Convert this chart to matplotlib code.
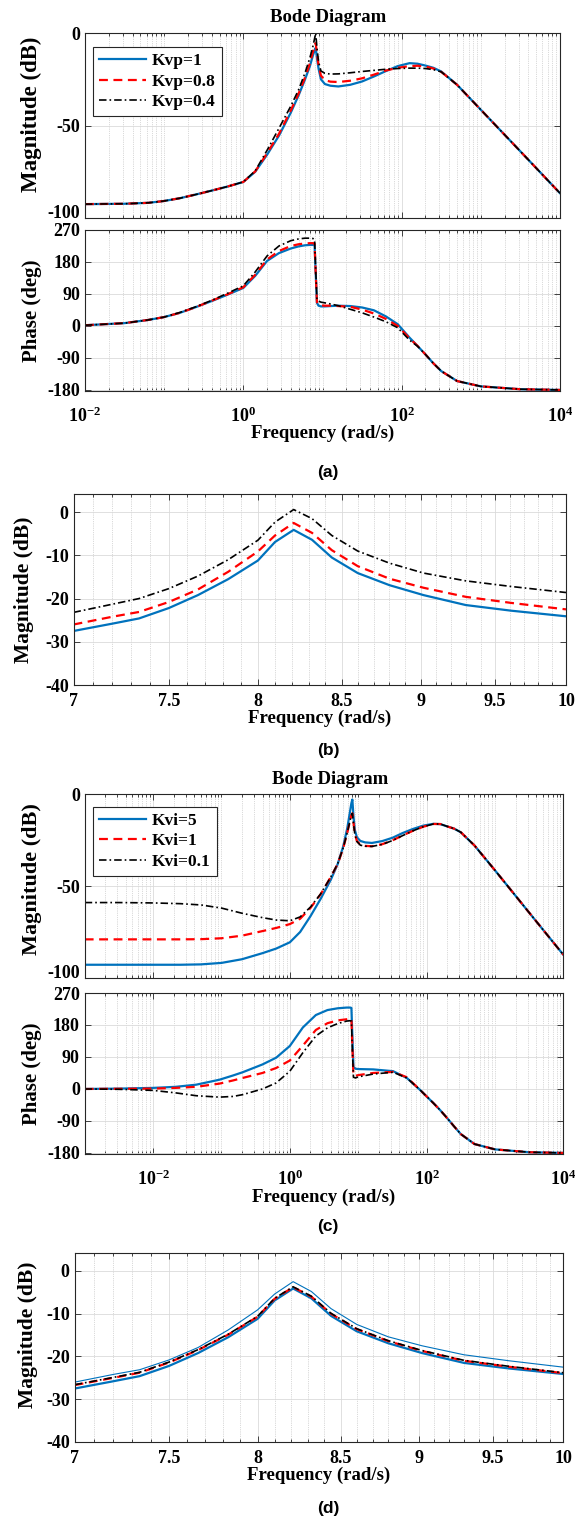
import matplotlib.pyplot as plt
from matplotlib.ticker import FixedLocator, FixedFormatter, NullFormatter, LogLocator
import numpy as np

plt.rcParams['font.family'] = 'Liberation Serif'
plt.rcParams['font.weight'] = 'bold'
plt.rcParams['mathtext.fontset'] = 'custom'
plt.rcParams['mathtext.rm'] = 'Liberation Serif:bold'
plt.rcParams['mathtext.it'] = 'Liberation Serif:bold'
plt.rcParams['mathtext.bf'] = 'Liberation Serif:bold'
plt.rcParams['axes.unicode_minus'] = False

# ---- (a) Kvp sweep, magnitude / phase ----
w_a = [0.01, 0.0316, 0.0631, 0.1, 0.158, 0.251, 0.398, 0.631, 1.0, 1.413, 1.995, 2.818,
       3.981, 5.012, 6.026, 6.918, 7.586, 7.943, 8.2, 8.511, 8.913, 9.55, 10.72, 12.59,
       15.85, 22.39, 31.62, 44.67, 63.1, 89.13, 125.9, 158.5, 199.5, 251.2, 316.2, 501.2,
       1000, 3162, 10000]
mag_kvp1 = [-92.5, -92.3, -91.8, -90.8, -89.3, -87.3, -85.2, -83.0, -80.5, -75.0, -65.8, -55.5,
            -43.0, -33.5, -25.0, -18.0, -12.0, -9.5, -8.0, -13.5, -19.2, -25.0, -27.6, -28.5,
            -28.9, -28.0, -26.2, -23.5, -20.6, -17.9, -16.3, -16.6, -17.6, -18.8, -20.8, -28.0,
            -41.5, -64.0, -86.6]
mag_kvp08 = [-92.5, -92.3, -91.8, -90.8, -89.3, -87.3, -85.2, -83.0, -80.5, -74.8, -65.0, -54.5,
             -41.8, -32.5, -24.0, -16.5, -10.0, -7.0, -5.5, -11.0, -17.5, -23.0, -25.5, -26.3,
             -26.5, -25.8, -24.5, -22.5, -20.3, -18.8, -17.9, -17.7, -18.1, -19.2, -21.0, -28.0,
             -41.5, -64.0, -86.6]
mag_kvp04 = [-92.5, -92.3, -91.8, -90.8, -89.3, -87.3, -85.2, -83.0, -80.5, -74.5, -63.4, -51.5,
             -39.5, -30.5, -21.5, -13.5, -7.0, -3.0, 0.0, -8.0, -15.5, -20.5, -21.8, -22.2,
             -22.1, -21.5, -20.8, -20.2, -19.6, -19.2, -19.0, -19.0, -19.2, -19.8, -21.0, -28.0,
             -41.5, -64.0, -86.6]
ph_kvp1 = [2, 8, 17, 25, 37, 53, 70, 88, 107, 141, 183, 205,
           218, 224, 227, 228, 228, 227, 150, 65, 57, 55, 55, 56,
           57, 56, 52, 44, 27, 5, -33, -56, -80, -105, -127, -155,
           -170, -178, -180]
ph_kvp08 = [2, 8, 17, 25, 37, 53, 71, 89, 109, 144, 187, 211,
            225, 230, 232, 233, 233, 232, 150, 67, 60, 58, 57, 57,
            56, 54, 46, 35, 20, 0, -35, -56, -80, -105, -127, -155,
            -170, -178, -180]
ph_kvp04 = [2, 8, 17, 25, 38, 54, 72, 92, 113, 152, 197, 225,
            240, 245, 247, 247, 246, 243, 160, 74, 70, 67, 65, 62,
            57, 47, 37, 25, 12, -5, -40, -57, -80, -105, -127, -155,
            -170, -178, -180]

# ---- (b) zoom around the resonance, Kvp sweep ----
w_zoom = [7.0, 7.2, 7.34, 7.5, 7.66, 7.83, 8.0, 8.1, 8.21, 8.32, 8.44, 8.6, 8.8, 9.02, 9.3, 9.61, 10.0]
zb_kvp1 = [-27.5, -25.8, -24.6, -22.2, -19.2, -15.5, -11.2, -6.9, -4.1, -6.4, -10.5, -14.1,
           -16.9, -19.2, -21.5, -22.8, -24.1]
zb_kvp08 = [-26.0, -24.2, -23.1, -20.8, -17.9, -13.8, -9.1, -5.4, -2.5, -4.8, -8.8, -12.5,
            -15.4, -17.5, -19.6, -21.0, -22.5]
zb_kvp04 = [-23.2, -21.3, -20.0, -17.7, -14.8, -11.0, -6.5, -2.3, 0.6, -1.5, -5.4, -9.0,
            -11.8, -14.1, -15.9, -17.2, -18.6]

# ---- (c) Kvi sweep ----
w_cm = [0.001, 0.00316, 0.01, 0.0251, 0.0501, 0.1, 0.1995, 0.398, 0.631, 1.0, 1.413, 1.995,
        2.818, 3.981, 5.012, 6.026, 6.918, 7.586, 7.943, 8.2, 8.511, 8.913, 9.55, 10.72,
        12.59, 15.85, 22.39, 31.62, 44.67, 63.1, 89.13, 125.9, 158.5, 199.5, 251.2, 316.2,
        501.2, 1000, 3162, 10000]
mag_kvi5 = [-92.8, -92.8, -92.8, -92.8, -92.6, -91.8, -89.8, -86.5, -84.0, -80.6, -75.0, -66.5,
            -57.0, -46.5, -38.0, -28.5, -18.5, -9.5, -5.0, -3.0, -12.0, -19.5, -23.5, -25.5,
            -26.3, -26.6, -25.6, -23.8, -21.2, -19.0, -17.2, -16.2, -16.4, -17.6, -18.8, -20.8,
            -28.0, -41.5, -64.5, -87.4]
mag_kvi1 = [-79.0, -79.0, -79.0, -79.0, -78.9, -78.4, -77.0, -74.5, -72.8, -70.7, -67.8, -62.0,
            -54.5, -45.0, -38.0, -29.5, -21.0, -14.5, -11.5, -10.5, -15.5, -21.5, -25.5, -27.5,
            -28.2, -28.4, -27.3, -25.2, -22.5, -20.0, -17.8, -16.3, -16.3, -17.6, -18.8, -20.8,
            -28.0, -41.5, -64.5, -87.4]
mag_kvi01 = [-59.0, -59.0, -59.2, -59.6, -60.3, -62.0, -64.8, -67.2, -68.5, -68.9, -66.8, -61.5,
             -54.3, -45.0, -37.8, -29.3, -21.0, -14.5, -11.5, -10.5, -15.8, -21.8, -25.8, -27.8,
             -28.4, -28.5, -27.4, -25.3, -22.6, -20.0, -17.8, -16.3, -16.3, -17.6, -18.8, -20.8,
             -28.0, -41.5, -64.5, -87.4]
w_cp = [0.001, 0.00316, 0.01, 0.0214, 0.0427, 0.0933, 0.148, 0.204, 0.398, 0.631, 1.0, 1.549,
        2.399, 3.548, 5.012, 6.761, 7.586, 7.943, 8.2, 8.511, 9.12, 10.0, 16.6, 32.36,
        51.29, 79.43, 125.9, 158.5, 199.5, 251.2, 316.2, 501.2, 1000, 3162, 10000]
ph_kvi5 = [0, 1, 3, 6, 12, 26, 38, 47, 69, 88, 121, 173,
           208, 222, 227, 229, 229, 228, 150, 62, 57, 56, 55, 50,
           31, -2, -40, -60, -82, -105, -127, -155, -170, -178, -180]
ph_kvi1 = [0, 0.5, 1, 3, 6, 15, 24, 31, 45, 59, 80, 122,
           166, 185, 193, 196, 198, 197, 120, 38, 37, 39, 45, 48,
           33, -2, -40, -60, -82, -105, -127, -155, -170, -178, -180]
ph_kvi01 = [0, -1, -4, -11, -19, -23, -21, -16, 0, 17, 50, 102,
            149, 172, 184, 191, 192, 191, 110, 33, 31, 34, 42, 47,
            31, -2, -40, -60, -82, -105, -127, -155, -170, -178, -180]

# ---- (d) zoom around the resonance, Kvi sweep ----
zd_kvi5 = [-27.5, -25.8, -24.6, -22.2, -19.2, -15.5, -11.2, -6.9, -4.1, -6.4, -10.5, -14.1,
           -16.9, -19.2, -21.5, -22.8, -24.1]
zd_kvi1 = [-26.7, -25.0, -23.8, -21.4, -18.5, -14.9, -10.7, -6.5, -3.8, -6.0, -10.0, -13.6,
           -16.4, -18.7, -21.0, -22.4, -23.9]
zd_kvi01 = [-26.6, -24.9, -23.7, -21.3, -18.4, -14.8, -10.6, -6.4, -3.7, -5.9, -9.9, -13.5,
            -16.3, -18.6, -20.9, -22.3, -23.8]
zd_extra = [-26.0, -24.2, -23.1, -20.8, -17.9, -13.8, -9.1, -5.4, -2.5, -4.8, -8.8, -12.5,
            -15.4, -17.5, -19.6, -21.0, -22.5]

BLUE = '#0072BD'
RED = '#FF0000'
W, H = 583, 1518
fig = plt.figure(figsize=(W / 100, H / 100), dpi=100)


def add_ax(left, top, right, bottom):
    return fig.add_axes([left / W, 1 - bottom / H, (right - left) / W, (bottom - top) / H])


def style(ax):
    ax.tick_params(which='both', direction='in', top=True, right=True, labelsize=13,
                   width=0.6, color='#262626')
    ax.tick_params(which='major', length=4)
    ax.tick_params(which='minor', length=2)
    ax.grid(True, which='major', color='#dadada', lw=0.6)
    ax.grid(True, which='minor', axis='x', color='#b5b5b5', lw=0.5, ls=':')
    ax.set_axisbelow(True)
    for s in ax.spines.values():
        s.set_linewidth(0.8)
        s.set_color('#262626')


def bode_x(ax, lo, labels):
    ax.set_xscale('log')
    ax.set_xlim(lo, 1e4)
    ax.xaxis.set_major_locator(FixedLocator([1e-2, 1, 1e2, 1e4]))
    ax.xaxis.set_minor_locator(LogLocator(base=10, subs=np.arange(1, 10), numticks=60))
    ax.xaxis.set_minor_formatter(NullFormatter())
    if labels:
        ax.xaxis.set_major_formatter(FixedFormatter(['$10^{-2}$', '$10^{0}$', '$10^{2}$', '$10^{4}$']))
        ax.tick_params(axis='x', which='major', pad=11)
    else:
        ax.xaxis.set_major_formatter(NullFormatter())


def mag_y(ax):
    ax.set_ylim(-100, 0)
    ax.set_yticks([-100, -50, 0], ['-100', '-50', '0'])
    # lift the bottom label a little so it does not run into the phase axis
    ax.get_yticklabels()[0].set_verticalalignment('baseline')


def zoom_x(ax):
    ax.set_xscale('log')
    ax.set_xlim(7, 10)
    ax.xaxis.set_major_locator(FixedLocator([7, 7.5, 8, 8.5, 9, 9.5, 10]))
    ax.xaxis.set_major_formatter(FixedFormatter(['7', '7.5', '8', '8.5', '9', '9.5', '10']))
    minors = [round(7 + 0.1 * i, 1) for i in range(1, 30)]
    ax.xaxis.set_minor_locator(FixedLocator([m for m in minors if 1e-6 < m % 0.5 < 0.49]))
    ax.xaxis.set_minor_formatter(NullFormatter())
    ax.tick_params(axis='x', which='major', pad=6)
    ax.set_ylim(-40, 4.2)
    ax.set_yticks([-40, -30, -20, -10, 0])


def lines3(ax, x, y1, y2, y3):
    ax.plot(x, y1, color=BLUE, lw=1.6)
    ax.plot(x, y2, color=RED, lw=1.6, dashes=(4, 2.5))
    ax.plot(x, y3, color='k', lw=1.2, dashes=(4.5, 1.8, 1, 1.8))


def ylab(ax, text, x, size, y=0.5):
    ax.set_ylabel(text, fontsize=size, fontweight='bold', va='center')
    ax.yaxis.set_label_coords(x, y)


def xlab(ax, y):
    ax.set_xlabel('Frequency (rad/s)', fontsize=13.5, fontweight='bold', va='center')
    ax.xaxis.set_label_coords(0.5, y)


def legend(ax, labels, x0, y1):
    leg = ax.legend(labels, loc='upper left', bbox_to_anchor=(x0, y1), borderaxespad=0,
                    fontsize=12.5, handlelength=2.7, handletextpad=0.35, labelspacing=0.25,
                    borderpad=0.35, fancybox=False, framealpha=1, edgecolor='#262626')
    leg.get_frame().set_linewidth(0.8)


# (a) magnitude
ax = add_ax(85, 33, 560, 218)
style(ax)
lines3(ax, w_a, mag_kvp1, mag_kvp08, mag_kvp04)
bode_x(ax, 1e-2, False)
mag_y(ax)
ylab(ax, 'Magnitude (dB)', -0.112, 16.5, 0.56)
legend(ax, ['Kvp=1', 'Kvp=0.8', 'Kvp=0.4'], 0.017, 0.924)
fig.text(328 / W, 1 - 17 / H, 'Bode Diagram', ha='center', va='center', fontsize=13.5, fontweight='bold')

# (a) phase
ax = add_ax(85, 230, 560, 391)
style(ax)
lines3(ax, w_a, ph_kvp1, ph_kvp08, ph_kvp04)
bode_x(ax, 1e-2, True)
ax.set_ylim(-183, 270)
ax.set_yticks([-180, -90, 0, 90, 180, 270])
ylab(ax, 'Phase (deg)', -0.112, 15)
xlab(ax, -0.261)

# (b)
ax = add_ax(73.5, 494, 566, 685)
style(ax)
lines3(ax, w_zoom, zb_kvp1, zb_kvp08, zb_kvp04)
zoom_x(ax)
ylab(ax, 'Magnitude (dB)', -0.1, 15.5)
xlab(ax, -0.173)

# (c) magnitude
ax = add_ax(84.7, 794, 563.4, 978)
style(ax)
lines3(ax, w_cm, mag_kvi5, mag_kvi1, mag_kvi01)
bode_x(ax, 1e-3, False)
mag_y(ax)
ylab(ax, 'Magnitude (dB)', -0.11, 16, 0.54)
legend(ax, ['Kvi=5', 'Kvi=1', 'Kvi=0.1'], 0.017, 0.931)
fig.text(330 / W, 1 - 780 / H, 'Bode Diagram', ha='center', va='center', fontsize=13.5, fontweight='bold')

# (c) phase
ax = add_ax(84.7, 993, 563.4, 1154)
style(ax)
lines3(ax, w_cp, ph_kvi5, ph_kvi1, ph_kvi01)
bode_x(ax, 1e-3, True)
ax.set_ylim(-183, 270)
ax.set_yticks([-180, -90, 0, 90, 180, 270])
ylab(ax, 'Phase (deg)', -0.11, 15)
xlab(ax, -0.267)

# (d)
ax = add_ax(74.6, 1253, 563.4, 1442)
style(ax)
ax.plot(w_zoom, zd_kvi5, color=BLUE, lw=1.6)
ax.plot(w_zoom, zd_kvi1, color=RED, lw=1.6, dashes=(4, 2.5))
ax.plot(w_zoom, zd_kvi01, color='k', lw=1.2, dashes=(4.5, 1.8, 1, 1.8))
ax.plot(w_zoom, zd_extra, color=BLUE, lw=0.8)
zoom_x(ax)
ylab(ax, 'Magnitude (dB)', -0.095, 15.5, 0.57)
xlab(ax, -0.175)

for lab, y in [('(a)', 472), ('(b)', 750), ('(c)', 1227), ('(d)', 1508)]:
    fig.text(328 / W, 1 - y / H, lab, ha='center', va='center', fontsize=12.5,
             fontweight='bold', family='Liberation Sans')

fig.savefig('out.png', dpi=100)
